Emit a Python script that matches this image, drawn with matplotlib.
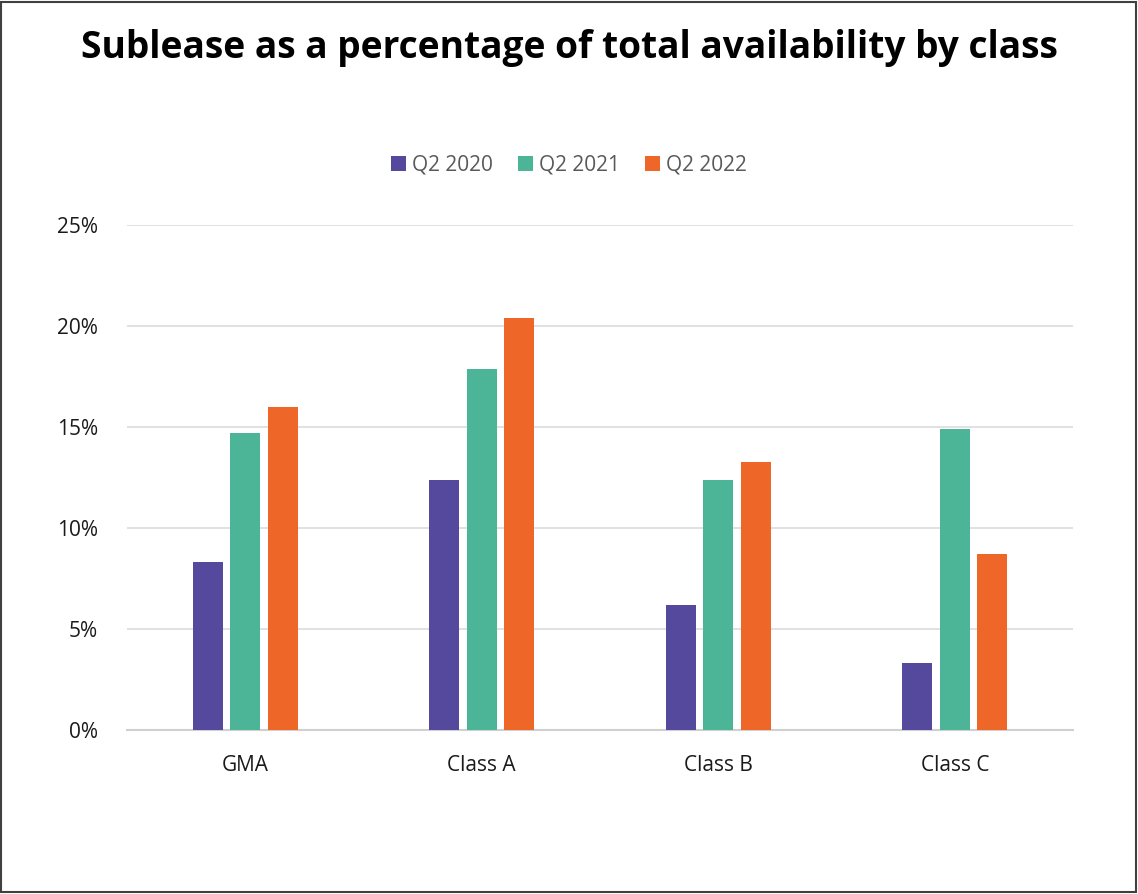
import numpy as np
import matplotlib.pyplot as plt
from matplotlib.patches import Rectangle
from matplotlib.ticker import PercentFormatter

# Данные
categories = ["GMA", "Class A", "Class B", "Class C"]
series_names = ["Q2 2020", "Q2 2021", "Q2 2022"]
q2_2020 = [8.3, 12.4, 6.2, 3.3]
q2_2021 = [14.7, 17.9, 12.4, 14.9]
q2_2022 = [16.0, 20.4, 13.3, 8.7]
colors = ["#55499e", "#4db597", "#ef6629"]

plt.rcParams['font.family'] = ['Open Sans', 'DejaVu Sans']

fig = plt.figure(figsize=(11.38, 8.94), dpi=100)
ax = fig.add_axes([0.1116, 0.1834, 0.8314, 0.5646])

x = np.arange(len(categories))
width = 0.127
step = 0.159
for i, (vals, name) in enumerate(zip([q2_2020, q2_2021, q2_2022], series_names)):
    ax.bar(x + (i - 1) * step, vals, width, color=colors[i], label=name, zorder=3)

ax.set_xlim(-0.5, len(categories) - 0.5)
ax.set_ylim(0, 25)
ax.set_yticks([0, 5, 10, 15, 20, 25])
ax.yaxis.set_major_formatter(PercentFormatter(decimals=0))
ax.set_xticks(x)
ax.set_xticklabels(categories)
ax.tick_params(axis='both', length=0, labelsize=15, colors='#1a1a1a')
ax.tick_params(axis='y', pad=21)
ax.tick_params(axis='x', pad=18)
ax.grid(axis='y', color='#d9d9d9', linewidth=1.1, zorder=0)
for s in ['top', 'right', 'left']:
    ax.spines[s].set_visible(False)
ax.spines['bottom'].set_color('#d0d0d0')
ax.spines['bottom'].set_linewidth(1.5)

fig.legend(loc='center', bbox_to_anchor=(0.5, 1 - 165 / 894), ncol=3, frameon=False,
           fontsize=15, labelcolor='#595959', handlelength=0.7, handleheight=0.7,
           handletextpad=0.3, columnspacing=1.2)

fig.text(0.5, 1 - 48 / 894, "Sublease as a percentage of total availability by class",
         ha='center', va='center', fontsize=26.7, fontweight='bold', color='black')

# рамка вокруг рисунка
fig.patches.append(Rectangle((0.001, 0.002), 0.997, 0.996, transform=fig.transFigure,
                             fill=False, edgecolor='#404040', linewidth=1.5))

fig.savefig("out.png", dpi=100)
